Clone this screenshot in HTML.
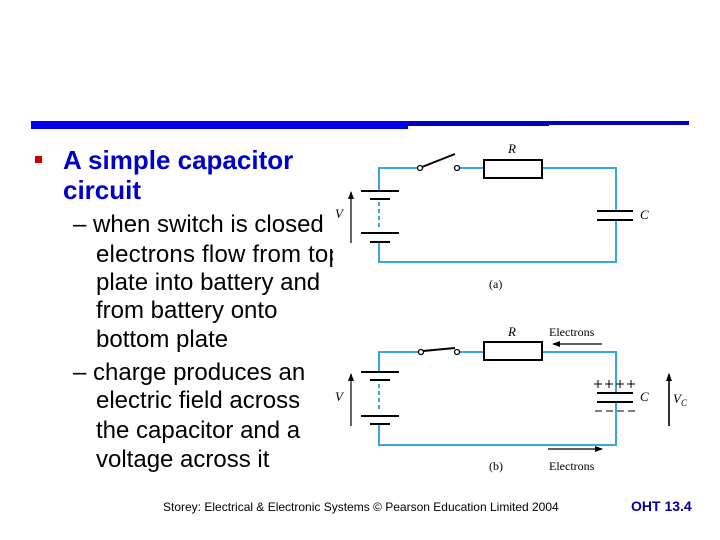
<!DOCTYPE html>
<html><head><meta charset="utf-8"><style>
body{margin:0;width:720px;height:540px;background:#fff;position:relative;overflow:hidden;font-family:"Liberation Sans",Arial,sans-serif}
.t{position:absolute;white-space:nowrap}
.h{color:#0000cc;font-weight:bold;font-size:26px}
.s{color:#000;font-size:24px}
</style></head><body>
<div style="position:absolute;left:31px;top:121px;width:377px;height:8px;background:#0000ee"></div>
<div style="position:absolute;left:408px;top:121px;width:141px;height:5px;background:#0000cc"></div>
<div style="position:absolute;left:549px;top:121px;width:140px;height:4px;background:#0000cc"></div>
<div style="position:absolute;left:35px;top:156px;width:7px;height:7px;background:#cc0000"></div>
<div class="t h" style="left:63px;top:145px">A simple capacitor</div>
<div class="t h" style="left:63px;top:175px">circuit</div>
<div class="t s" style="left:73px;top:211px">– when switch is closed</div>
<div class="t s" style="left:96px;top:241px;letter-spacing:0.2px">electrons flow from top</div>
<div class="t s" style="left:96px;top:269px">plate into battery and</div>
<div class="t s" style="left:96px;top:297px">from battery onto</div>
<div class="t s" style="left:96px;top:326px">bottom plate</div>
<div class="t s" style="left:73px;top:359px">– charge produces an</div>
<div class="t s" style="left:96px;top:387px">electric field across</div>
<div class="t s" style="left:96px;top:417px">the capacitor and a</div>
<div class="t s" style="left:96px;top:446px">voltage across it</div>
<div class="t" style="left:163px;top:500px;font-size:12px">Storey: Electrical &amp; Electronic Systems © Pearson Education Limited 2004</div>
<div class="t" style="left:631px;top:498px;font-size:14px;font-weight:bold;color:#000099">OHT 13.4</div>
<svg style="position:absolute;left:0;top:0" width="720" height="540">
<defs><marker id="a" markerWidth="8" markerHeight="8" refX="7" refY="4" orient="auto" markerUnits="userSpaceOnUse"><path d="M0,1 L8,4 L0,7 z" fill="#000"/></marker></defs>
<rect x="333" y="135" width="333" height="345" fill="#fff"/>
<g fill="none" stroke="#3aa6e0" stroke-width="2">
<path d="M420,168 H379 V191 M379,242 V262 H616 V220 M616,211 V168 H542 M484,168 H457"/>
<path d="M379,202 V230" stroke-dasharray="4,3"/>
<path d="M421,352 H379 V372 M379,424 V445 H616 V402 M616,393 V352 H542 M484,352 H457"/>
<path d="M379,384 V412" stroke-dasharray="4,3"/>
</g>
<g stroke="#000" stroke-width="2" fill="none">
<path d="M361,191 H399 M370,199 H390 M361,233 H399 M370,242 H390"/>
<path d="M597,211 H633 M597,220 H633"/>
<rect x="484" y="160" width="58" height="18" fill="#fff"/>
<path d="M422,167 L455,154"/>
<path d="M361,372 H399 M370,380 H390 M361,416 H399 M370,424 H390"/>
<path d="M597,393 H633 M597,402 H633"/>
<rect x="484" y="342" width="58" height="18" fill="#fff"/>
<path d="M423,351 L455,348"/>
</g>
<g stroke="#000" stroke-width="1.3" fill="#fff">
<circle cx="420" cy="168" r="2.5"/><circle cx="457" cy="168" r="2.5"/>
<circle cx="421" cy="352" r="2.5"/><circle cx="457" cy="352" r="2.5"/>
</g>
<g stroke="#000" stroke-width="1.2" fill="none">
<path d="M351,243 V192" marker-end="url(#a)"/>
<path d="M351,426 V374" marker-end="url(#a)"/>
<path d="M669,426 V374" marker-end="url(#a)" stroke-width="1.6"/>
<path d="M602,344 H553" marker-end="url(#a)"/>
<path d="M548,449 H602" marker-end="url(#a)"/>
<path d="M595,411 H602 M606,411 H613 M617,411 H624 M628,411 H635" stroke-width="1"/>
<path d="M594,384 H602 M598,380 V388 M605,384 H613 M609,380 V388 M616,384 H624 M620,380 V388 M627,384 H635 M631,380 V388" stroke-width="1"/>
</g>
<g font-family="Liberation Serif,serif" font-size="13" fill="#000">
<text x="508" y="153" font-style="italic">R</text>
<text x="640" y="219" font-style="italic">C</text>
<text x="335" y="218" font-style="italic">V</text>
<text x="489" y="288" font-size="12">(a)</text>
<text x="508" y="336" font-style="italic">R</text>
<text x="549" y="336" font-size="12">Electrons</text>
<text x="640" y="401" font-style="italic">C</text>
<text x="335" y="401" font-style="italic">V</text>
<text x="673" y="403" font-style="italic">V<tspan font-size="9" dy="3">C</tspan></text>
<text x="489" y="470" font-size="12">(b)</text>
<text x="549" y="470" font-size="12">Electrons</text>
</g>
</svg>
</body></html>
